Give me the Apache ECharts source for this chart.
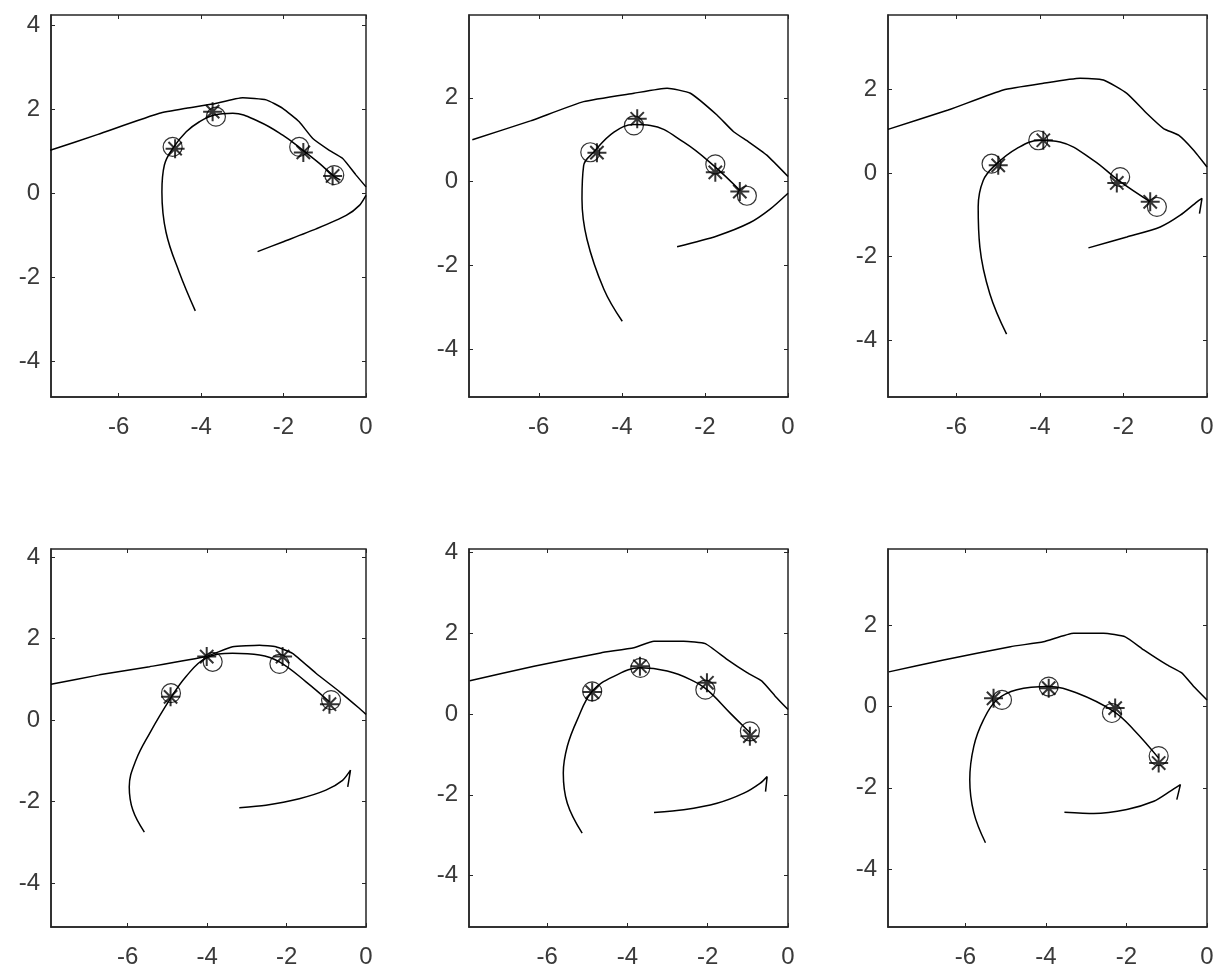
<!DOCTYPE html>
<html>
<head>
<meta charset="utf-8">
<script src="https://cdn.jsdelivr.net/npm/echarts@6/dist/echarts.min.js"></script>
<style>
html,body{margin:0;padding:0;background:#fff;}
#chart{width:1219px;height:975px;}
</style>
</head>
<body>
<div id="chart"></div>
<script>
// ---- tick labels ----
var xTickValues = [-6, -4, -2, 0];
var yTickValues = [
  [-4, -2, 0, 2, 4],
  [-4, -2, 0, 2],
  [-4, -2, 0, 2],
  [-4, -2, 0, 2, 4],
  [-4, -2, 0, 2, 4],
  [-4, -2, 0, 2]
];
// ---- axis limits per panel ----
var xMin = [-7.64, -7.68, -7.64, -7.93, -7.95, -7.92];
var xMax = [0, 0, 0, 0, 0, 0];
var yMin = [-4.84, -5.15, -5.35, -5.08, -5.27, -5.42];
var yMax = [4.25, 3.98, 3.77, 4.2, 4.08, 3.87];

// ---- panel 1 ----
var p1Upper = [[-7.66,1.03],[-6.5,1.41],[-5.01,1.91],[-4.36,2.03],[-3.72,2.13],[-2.99,2.28],[-2.42,2.23],[-2.02,2.03],[-1.62,1.71],[-1.29,1.31],[-0.89,1.03],[-0.57,0.84],[-0.24,0.44],[0,0.16]];
var p1Lower = [[-2.63,-1.38],[-2.02,-1.15],[-1.21,-0.84],[-0.48,-0.52],[-0.16,-0.28],[0,-0.04]];
var p1Arc = [[-4.14,-2.79],[-4.53,-1.87],[-4.85,-0.92],[-4.95,0.04],[-4.89,0.68],[-4.69,1.07],[-4.36,1.47],[-4.04,1.71],[-3.68,1.87],[-3.23,1.91],[-2.59,1.71],[-2.02,1.39],[-1.58,1.07],[-1.13,0.72],[-0.81,0.44],[-0.62,0.32]];
var p1Circles = [[-4.69,1.11],[-3.64,1.83],[-1.62,1.11],[-0.77,0.44]];
var p1Stars = [[-4.63,1.07],[-3.72,1.95],[-1.52,0.98],[-0.81,0.42]];

// ---- panel 2 ----
var p2Upper = [[-7.6,1.0],[-6.2,1.45],[-4.92,1.91],[-3.71,2.11],[-2.91,2.23],[-2.35,2.11],[-1.71,1.59],[-1.31,1.19],[-0.95,0.95],[-0.51,0.63],[0,0.12]];
var p2Lower = [[-2.67,-1.56],[-1.71,-1.30],[-0.91,-0.98],[-0.43,-0.66],[0,-0.28]];
var p2Arc = [[-3.99,-3.34],[-4.43,-2.58],[-4.84,-1.38],[-4.96,-0.42],[-4.92,0.38],[-4.68,0.70],[-4.19,1.18],[-3.71,1.36],[-3.31,1.34],[-2.51,0.94],[-1.79,0.38],[-1.15,-0.22]];
var p2Circles = [[-4.76,0.70],[-3.71,1.34],[-1.75,0.41],[-0.99,-0.34]];
var p2Stars = [[-4.60,0.69],[-3.63,1.50],[-1.75,0.22],[-1.16,-0.24]];

// ---- panel 3 ----
var p3Upper = [[-7.64,1.04],[-6.2,1.5],[-4.88,1.98],[-3.92,2.14],[-3.04,2.26],[-2.48,2.22],[-1.92,1.90],[-1.44,1.42],[-1.04,1.06],[-0.68,0.90],[-0.32,0.54],[0,0.14]];
var p3Lower = [[-2.84,-1.79],[-1.92,-1.53],[-1.12,-1.29],[-0.64,-1.01],[-0.24,-0.69],[-0.12,-0.61],[-0.18,-0.97]];
var p3Arc = [[-4.8,-3.85],[-5.2,-2.89],[-5.44,-1.77],[-5.48,-0.81],[-5.36,-0.18],[-5.08,0.18],[-4.56,0.58],[-4.0,0.78],[-3.52,0.74],[-2.72,0.30],[-2.12,-0.18],[-1.36,-0.69]];
var p3Circles = [[-5.16,0.22],[-4.04,0.78],[-2.08,-0.10],[-1.2,-0.81]];
var p3Stars = [[-5.0,0.18],[-3.92,0.78],[-2.16,-0.24],[-1.36,-0.69]];

// ---- panel 4 ----
var p4Upper = [[-7.93,0.88],[-6.71,1.11],[-5.45,1.31],[-4.03,1.56],[-3.36,1.80],[-2.68,1.84],[-2.27,1.80],[-1.85,1.64],[-1.26,1.15],[-0.67,0.70],[-0.17,0.29],[0,0.14]];
var p4Lower = [[-3.19,-2.15],[-2.52,-2.09],[-1.68,-1.93],[-1.01,-1.72],[-0.59,-1.48],[-0.39,-1.23],[-0.46,-1.64]];
var p4Arc = [[-5.58,-2.75],[-5.87,-2.21],[-5.96,-1.64],[-5.79,-0.98],[-5.45,-0.33],[-4.95,0.49],[-4.53,1.07],[-4.03,1.52],[-3.36,1.64],[-2.68,1.60],[-2.18,1.43],[-1.51,0.94],[-0.92,0.45]];
var p4Circles = [[-4.91,0.66],[-3.86,1.43],[-2.18,1.38],[-0.88,0.49]];
var p4Stars = [[-4.92,0.57],[-4.01,1.56],[-2.10,1.56],[-0.92,0.39]];

// ---- panel 5 ----
var p5Upper = [[-7.93,0.82],[-6.33,1.18],[-4.67,1.51],[-3.84,1.64],[-3.34,1.80],[-2.60,1.80],[-2.06,1.74],[-1.52,1.35],[-1.02,1.02],[-0.65,0.81],[-0.32,0.44],[0,0.11]];
var p5Lower = [[-3.34,-2.44],[-2.60,-2.37],[-1.77,-2.21],[-1.10,-1.96],[-0.69,-1.71],[-0.52,-1.55],[-0.56,-1.92]];
var p5Arc = [[-5.13,-2.95],[-5.50,-2.21],[-5.60,-1.46],[-5.50,-0.80],[-5.25,-0.14],[-4.88,0.56],[-4.34,0.93],[-3.68,1.14],[-3.01,1.06],[-2.43,0.85],[-2.02,0.60],[-1.44,0.02],[-0.94,-0.47]];
var p5Circles = [[-4.88,0.56],[-3.68,1.14],[-2.06,0.60],[-0.95,-0.43]];
var p5Stars = [[-4.88,0.54],[-3.69,1.18],[-2.02,0.77],[-0.95,-0.55]];

// ---- panel 6 ----
var p6Upper = [[-7.9,0.85],[-6.54,1.14],[-4.88,1.47],[-4.06,1.59],[-3.31,1.80],[-2.57,1.80],[-2.03,1.71],[-1.57,1.39],[-0.99,1.02],[-0.62,0.82],[-0.33,0.49],[0,0.16]];
var p6Lower = [[-3.54,-2.60],[-2.81,-2.63],[-1.99,-2.53],[-1.32,-2.33],[-0.91,-2.08],[-0.66,-1.92],[-0.75,-2.29]];
var p6Arc = [[-5.5,-3.35],[-5.79,-2.61],[-5.89,-1.80],[-5.79,-0.98],[-5.55,-0.33],[-5.22,0.16],[-4.72,0.41],[-3.93,0.49],[-3.23,0.33],[-2.32,-0.12],[-1.82,-0.57],[-1.2,-1.27]];
var p6Circles = [[-5.09,0.16],[-3.93,0.49],[-2.36,-0.16],[-1.2,-1.22]];
var p6Stars = [[-5.30,0.20],[-3.93,0.45],[-2.28,-0.04],[-1.2,-1.39]];

var panels = [
  {upper:p1Upper, lower:p1Lower, arc:p1Arc, circles:p1Circles, stars:p1Stars},
  {upper:p2Upper, lower:p2Lower, arc:p2Arc, circles:p2Circles, stars:p2Stars},
  {upper:p3Upper, lower:p3Lower, arc:p3Arc, circles:p3Circles, stars:p3Stars},
  {upper:p4Upper, lower:p4Lower, arc:p4Arc, circles:p4Circles, stars:p4Stars},
  {upper:p5Upper, lower:p5Lower, arc:p5Arc, circles:p5Circles, stars:p5Stars},
  {upper:p6Upper, lower:p6Lower, arc:p6Arc, circles:p6Circles, stars:p6Stars}
];

// layout (pixels)
var boxes = [
  {left:51,  top:15,  width:315, height:382},
  {left:469, top:15,  width:319, height:382},
  {left:888, top:15,  width:319, height:382},
  {left:51,  top:549, width:315, height:378},
  {left:469, top:549, width:319, height:378},
  {left:888, top:549, width:319, height:378}
];

var STAR = 'path://M10,0L10,20M0,10L20,10M3,3L17,17M3,17L17,3';
var axisColor = '#262626';
var labelColor = '#3a3a3a';
var fontFam = '"Liberation Sans", Arial, sans-serif';

var grid = [], xAxis = [], yAxis = [], series = [];
panels.forEach(function (p, i) {
  var b = boxes[i];
  grid.push({left:b.left, top:b.top, width:b.width, height:b.height,
    show:true, borderColor:axisColor, borderWidth:1.5, backgroundColor:'#fff'});
  // bottom / left axes with labels
  xAxis.push({type:'value', gridIndex:i, min:xMin[i], max:xMax[i], position:'bottom',
    axisLine:{show:true, onZero:false, lineStyle:{color:axisColor, width:1.5}},
    axisTick:{show:true, inside:true, length:4, customValues:xTickValues, lineStyle:{color:axisColor}},
    axisLabel:{show:true, customValues:xTickValues, margin:18, fontSize:24, color:labelColor, fontFamily:fontFam},
    splitLine:{show:false}});
  yAxis.push({type:'value', gridIndex:i, min:yMin[i], max:yMax[i], position:'left',
    axisLine:{show:true, onZero:false, lineStyle:{color:axisColor, width:1.5}},
    axisTick:{show:true, inside:true, length:4, customValues:yTickValues[i], lineStyle:{color:axisColor}},
    axisLabel:{show:true, customValues:yTickValues[i], margin:11, fontSize:24, color:labelColor, fontFamily:fontFam},
    splitLine:{show:false}});
  var lineStyle = {color:'#000', width:1.5};
  [p.upper, p.lower, p.arc].forEach(function (d, k) {
    series.push({type:'line', xAxisIndex:i, yAxisIndex:i, data:d, showSymbol:false, symbol:'none',
      smooth: k === 0 ? 0.15 : (k === 1 ? 0.25 : 0.4), lineStyle:lineStyle, clip:true, silent:true, z:2});
  });
  series.push({type:'scatter', xAxisIndex:i, yAxisIndex:i, data:p.circles, symbol:'circle', symbolSize:19,
    itemStyle:{color:'rgba(0,0,0,0)', borderColor:'#000', borderWidth:1.2}, silent:true, z:3});
  series.push({type:'scatter', xAxisIndex:i, yAxisIndex:i, data:p.stars, symbol:STAR, symbolSize:19,
    itemStyle:{color:'rgba(0,0,0,0)', borderColor:'#000', borderWidth:2}, silent:true, z:4});
});
// top / right tick marks (box ticks, no labels)
panels.forEach(function (p, i) {
  xAxis.push({type:'value', gridIndex:i, min:xMin[i], max:xMax[i], position:'top',
    axisLine:{show:false, onZero:false}, axisLabel:{show:false}, splitLine:{show:false},
    axisTick:{show:true, inside:true, length:4, customValues:xTickValues, lineStyle:{color:axisColor}}});
  yAxis.push({type:'value', gridIndex:i, min:yMin[i], max:yMax[i], position:'right',
    axisLine:{show:false, onZero:false}, axisLabel:{show:false}, splitLine:{show:false},
    axisTick:{show:true, inside:true, length:4, customValues:yTickValues[i], lineStyle:{color:axisColor}}});
});

var chart = echarts.init(document.getElementById('chart'), null, {renderer:'canvas'});
chart.setOption({
  animation:false,
  backgroundColor:'#fff',
  grid:grid, xAxis:xAxis, yAxis:yAxis, series:series
});
</script>
</body>
</html>
